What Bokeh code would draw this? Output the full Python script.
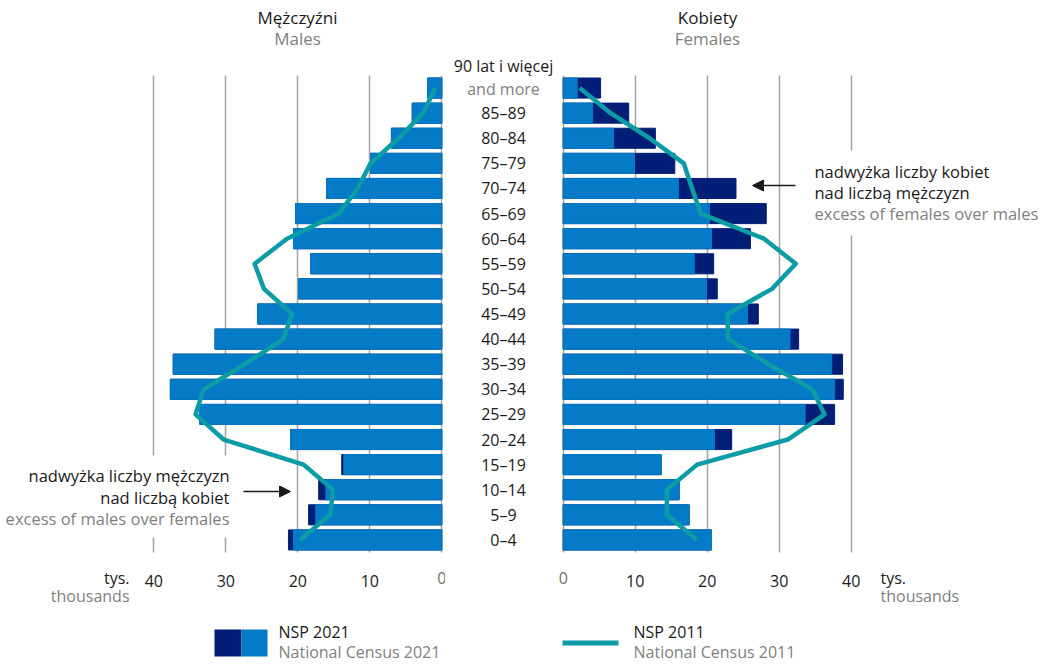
from bokeh.plotting import figure
from bokeh.layouts import row
from bokeh.models import (Range1d, FixedTicker, Label, LabelSet, ColumnDataSource,
                          Arrow, NormalHead, BoxAnnotation)
from bokeh.core.properties import value
from bokeh.embed import file_html
from bokeh.resources import INLINE

# ---------------- data (thousands) ----------------
ages = ["0–4", "5–9", "10–14", "15–19", "20–24", "25–29", "30–34", "35–39",
        "40–44", "45–49", "50–54", "55–59", "60–64", "65–69", "70–74",
        "75–79", "80–84", "85–89", "90 lat i więcej"]
males_2021 = [21.3, 18.5, 17.1, 13.9, 21.0, 33.6, 37.7, 37.3, 31.5, 25.6,
              19.9, 18.2, 20.6, 20.3, 16.0, 9.9, 7.0, 4.1, 1.95]
females_2021 = [20.6, 17.5, 16.1, 13.6, 23.4, 37.7, 38.9, 38.8, 32.7, 27.1,
                21.4, 20.9, 26.0, 28.2, 24.0, 15.5, 12.8, 9.1, 5.2]
males_2011 = [19.7, 15.5, 15.1, 19.2, 30.3, 34.2, 33.1, 27.4, 22.0, 20.8,
              24.7, 26.0, 21.5, 14.3, 11.7, 9.9, 6.0, 2.6, 0.9]
females_2011 = [18.6, 14.4, 14.4, 18.6, 31.2, 36.3, 34.6, 28.5, 22.9, 22.8,
                29.0, 32.3, 27.9, 19.1, 17.9, 16.75, 12.0, 6.6, 2.3]
x_ticks = [0, 10, 20, 30, 40]

# ---------------- style ----------------
LIGHT = "#057AC6"
DARK = "#031E76"
TEAL = "#0C9CA5"
GRID = "#A3A3A3"
BLACK = "#1A1A1A"
GRAY = "#7F7F7F"
FONT = "Open Sans"

# ---------------- geometry helpers (canvas pixels -> data) ----------------
PX = 7.2          # pixels per thousand
L0 = 441.3        # x of male zero
R0 = 562.7        # x of female zero
FT, FB = 75.0, 552.0   # top / bottom of the grid area
ROW = (FB - FT) / 19.0
H = 664
LEFT_W = 445      # x 0 .. 445
RIGHT_W = 595     # x 445 .. 1040


def yd(py):
    return (FB - py) / ROW - 0.5


def xl(px):
    return (L0 - px) / PX


def xr(px):
    return (px - R0) / PX


idx = list(range(len(ages)))
common = [min(m, f) for m, f in zip(males_2021, females_2021)]
src = ColumnDataSource(dict(y=idx, male=males_2021, female=females_2021, common=common,
                            m11=males_2011, f11=females_2011))


def make_fig(width, xrange):
    p = figure(width=width, height=H, x_range=xrange, y_range=Range1d(yd(H), yd(0)),
               output_backend="svg", toolbar_location=None, title=None,
               y_axis_location=None, min_border=0)
    p.outline_line_color = None
    p.background_fill_color = "white"
    p.border_fill_color = "white"
    p.ygrid.visible = False
    g = p.xgrid[0]
    g.ticker = FixedTicker(ticks=x_ticks)
    g.grid_line_color = GRID
    g.grid_line_width = 1.5
    g.cross_bounds = (-0.5, 18.5)
    ax = p.xaxis[0]
    ax.fixed_location = -0.5
    ax.ticker = FixedTicker(ticks=x_ticks[1:])
    ax.axis_line_color = None
    ax.major_tick_line_color = None
    ax.minor_tick_line_color = None
    ax.major_label_text_font = FONT
    ax.major_label_text_font_size = "16px"
    ax.major_label_text_color = BLACK
    ax.major_label_standoff = 16
    return p


def lab(p, x, y, text, color=BLACK, size="16px", align="left"):
    p.add_layout(Label(x=x, y=y, text=text, text_color=color, text_font=FONT,
                       text_font_size=size, text_align=align, text_baseline="middle"))


# ---------------- left (males) ----------------
left = make_fig(LEFT_W, Range1d(xl(0), xl(LEFT_W)))
left.hbar(y="y", left=0, right="male", height=0.8, color=DARK, source=src)
left.hbar(y="y", left=0, right="common", height=0.8, color=LIGHT, source=src)
left.line(x="m11", y="y", line_color=TEAL, line_width=4.5, line_join="round", source=src)

# ---------------- right (females) ----------------
right = make_fig(RIGHT_W, Range1d(xr(LEFT_W), xr(LEFT_W + RIGHT_W)))
right.hbar(y="y", left=0, right="female", height=0.8, color=DARK, source=src)
right.hbar(y="y", left=0, right="common", height=0.8, color=LIGHT, source=src)
right.line(x="f11", y="y", line_color=TEAL, line_width=4.5, line_join="round", source=src)

# age labels in the gap
age_src = ColumnDataSource(dict(x=[xr(503)] * (len(ages) - 1), y=idx[:-1], t=ages[:-1]))
right.add_layout(LabelSet(x="x", y="y", text="t", source=age_src, text_align="center",
                          text_baseline="middle", text_font=value(FONT),
                          text_font_size=value("16px"), text_color=BLACK))
lab(right, xr(503), yd(65), ages[-1], size="16px", align="center")
lab(right, xr(503), yd(88), "and more", color=GRAY, size="16px", align="center")

# titles
lab(left, xl(297), yd(17), "Mężczyźni", size="17px", align="center")
lab(left, xl(297), yd(38), "Males", color=GRAY, size="17px", align="center")
lab(right, xr(707), yd(17), "Kobiety", size="17px", align="center")
lab(right, xr(707), yd(38), "Females", color=GRAY, size="17px", align="center")

# zero tick labels (gray) and unit labels
lab(left, 0, yd(577), "0", color="#6E6E6E", align="center")
lab(right, 0, yd(577), "0", color="#6E6E6E", align="center")
lab(left, xl(129), yd(577), "tys.", align="right")
lab(left, xl(129), yd(595), "thousands", color=GRAY, align="right")
lab(right, xr(880), yd(577), "tys.", align="left")
lab(right, xr(880), yd(595), "thousands", color=GRAY, align="left")

# annotations (white boxes break the grid lines behind the text)
left.add_layout(BoxAnnotation(left=xl(0), right=xl(234), top=yd(455), bottom=yd(537),
                              fill_color="white", fill_alpha=1, line_color=None))
right.add_layout(BoxAnnotation(left=xr(805), right=xr(1040), top=yd(150), bottom=yd(235),
                               fill_color="white", fill_alpha=1, line_color=None))
lab(left, xl(229), yd(475), "nadwyżka liczby mężczyzn", size="16.5px", align="right")
lab(left, xl(229), yd(497), "nad liczbą kobiet", size="16.5px", align="right")
lab(left, xl(229), yd(518), "excess of males over females", color=GRAY, size="16.5px", align="right")
left.add_layout(Arrow(end=NormalHead(size=11, fill_color=BLACK, line_color=BLACK),
                      x_start=xl(243), y_start=yd(491), x_end=xl(290), y_end=yd(491),
                      line_color=BLACK, line_width=1.3))
lab(right, xr(814), yd(171), "nadwyżka liczby kobiet", size="16.5px", align="left")
lab(right, xr(814), yd(192), "nad liczbą mężczyzn", size="16.5px", align="left")
lab(right, xr(814), yd(213), "excess of females over males", color=GRAY, size="16.5px", align="left")
right.add_layout(Arrow(end=NormalHead(size=11, fill_color=BLACK, line_color=BLACK),
                       x_start=xr(795), y_start=yd(185), x_end=xr(752), y_end=yd(185),
                       line_color=BLACK, line_width=1.3))

# legend
left.add_layout(BoxAnnotation(left=xl(214), right=xl(241), top=yd(629), bottom=yd(656),
                              fill_color=DARK, fill_alpha=1, line_color=None))
left.add_layout(BoxAnnotation(left=xl(241), right=xl(267), top=yd(629), bottom=yd(656),
                              fill_color=LIGHT, fill_alpha=1, line_color=None))
lab(left, xl(278), yd(631), "NSP 2021")
lab(left, xl(278), yd(651), "National Census 2021", color=GRAY)
right.add_layout(BoxAnnotation(left=xr(562), right=xr(618), top=yd(640), bottom=yd(645),
                               fill_color=TEAL, fill_alpha=1, line_color=None))
lab(right, xr(633), yd(631), "NSP 2011")
lab(right, xr(633), yd(651), "National Census 2011", color=GRAY)

layout = row(left, right)
open("out.html", "w").write(file_html(layout, INLINE))
